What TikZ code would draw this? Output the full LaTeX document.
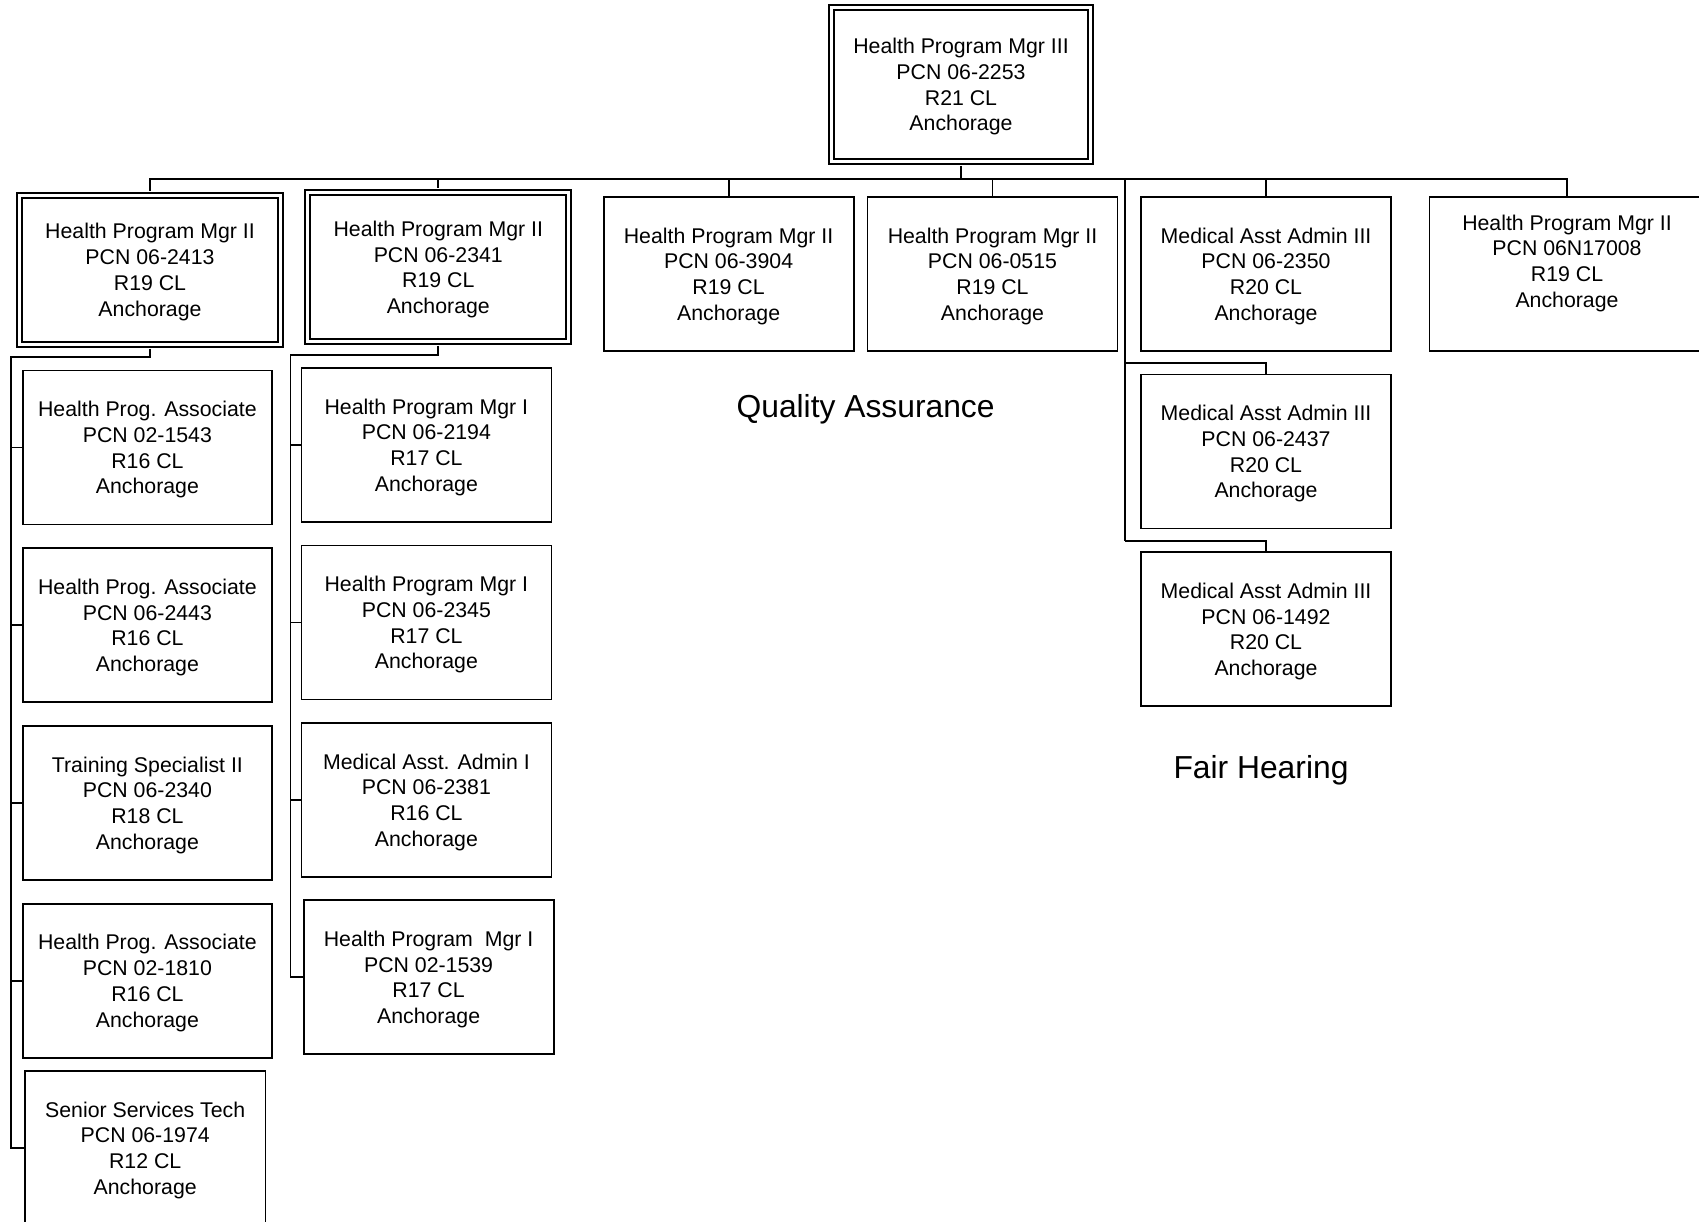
\documentclass[tikz,border=0pt]{standalone}
\usepackage{fontspec}
\setmainfont{Liberation Sans}
\tikzset{
    post/.style={draw,line width=1.8pt,minimum width=250pt,minimum height=154pt,
        inner sep=0pt,align=center,text depth=0pt,font=\fontsize{21.3}{25.8}\selectfont},
    mgrpost/.style={post,double,double distance=3.2pt,minimum width=261pt,minimum height=149pt},
    unit/.style={font=\fontsize{31.8}{38}\selectfont}
}

\begin{document}
\begin{tikzpicture}[x=1pt,y=-1pt,line width=1.8pt]
        \useasboundingbox (0,0) rectangle (1699,1222);
        \clip (0,0) rectangle (1699,1222);
        \def\bus{179}
        \def\gap{3.4pt}
        % managers
        \node [mgrpost,minimum width=259pt,minimum height=154pt] (top) at (961,84.5)
            {Health Program Mgr III\\PCN 06-2253\\R21 CL\\Anchorage};
        \node [mgrpost] (b1) at (150,269.8) {Health Program Mgr II\\PCN 06-2413\\R19 CL\\Anchorage};
        \node [mgrpost] (b2) at (438.3,267.2) {Health Program Mgr II\\PCN 06-2341\\R19 CL\\Anchorage};
        \node [post] (b3) at (728.6,274) {Health Program Mgr II\\PCN 06-3904\\R19 CL\\Anchorage};
        \node [post] (b4) at (992.5,274) {Health Program Mgr II\\PCN 06-0515\\R19 CL\\Anchorage};
        \node [post] (b5) at (1266,274) {Medical Asst Admin III\\PCN 06-2350\\R20 CL\\Anchorage};
        \node [post,minimum width=275pt] (b6) at (1567,274)
            {Health Program Mgr II\\PCN 06N17008\\R19 CL\\Anchorage\\\mbox{}};
        % first team
        \foreach \n/\y/\t/\p/\r in {
            c1/447.5/Health Prog. Associate/02-1543/16,
            c2/625.3/Health Prog. Associate/06-2443/16,
            c3/803/Training Specialist II/06-2340/18,
            c4/980.6/Health Prog. Associate/02-1810/16} {
            \node [post,minimum width=249pt] (\n) at (147.4,\y) {\t\\PCN \p\\R\r{} CL\\Anchorage};
        }
        \node [post,minimum width=240.6pt] (c5) at (145.2,1148) {Senior Services Tech\\PCN 06-1974\\R12 CL\\Anchorage};
        % second team
        \foreach \n/\y/\t/\p/\r in {
            d1/445/Health Program Mgr I/06-2194/17,
            d2/622.5/Health Program Mgr I/06-2345/17,
            d3/800/Medical Asst. Admin I/06-2381/16} {
            \node [post] (\n) at (426.4,\y) {\t\\PCN \p\\R\r{} CL\\Anchorage};
        }
        \node [post] (d4) at (428.6,977.3) {Health Program\ \ Mgr I\\PCN 02-1539\\R17 CL\\Anchorage};
        % fair hearing
        \node [post] (m2) at (1266,451.5) {Medical Asst Admin III\\PCN 06-2437\\R20 CL\\Anchorage};
        \node [post] (m3) at (1266,629.2) {Medical Asst Admin III\\PCN 06-1492\\R20 CL\\Anchorage};
        \node [unit] (qa) at (865.6,409.6) {Quality Assurance};
        \node [unit] (fair) at (1261,770.3) {Fair Hearing};

        % lines
        \coordinate (bus) at (961,\bus);
        \draw [shorten <=\gap] (top.south) -- (bus);
        \foreach \n in {b1,b2} {
            \draw [shorten >=\gap] (bus) -| (\n.north);
        }
        \foreach \n in {b3,b4,b5,b6} {
            \draw (bus) -| (\n.north);
        }
        \coordinate (col1) at (11,357);
        \draw [shorten <=\gap] (b1.south) |- (col1) |- (c5.west);
        \foreach \n in {c1,c2,c3,c4} {
            \draw (\n.west) -- (\n.west -| col1);
        }
        \coordinate (col2) at (290.4,355);
        \draw [shorten <=\gap] (b2.south) |- (col2) |- (d4.west);
        \foreach \n in {d1,d2,d3} {
            \draw (\n.west) -- (\n.west -| col2);
        }
        \coordinate (fh) at (1124.7,\bus);
        \coordinate (fh2) at (1124.7,363.3);
        \coordinate (fh3) at (1124.7,541);
        \draw (fh) -- (fh3);
        \draw (fh2) -| (m2.north);
        \draw (fh3) -| (m3.north);
    \end{tikzpicture}
\end{document}
